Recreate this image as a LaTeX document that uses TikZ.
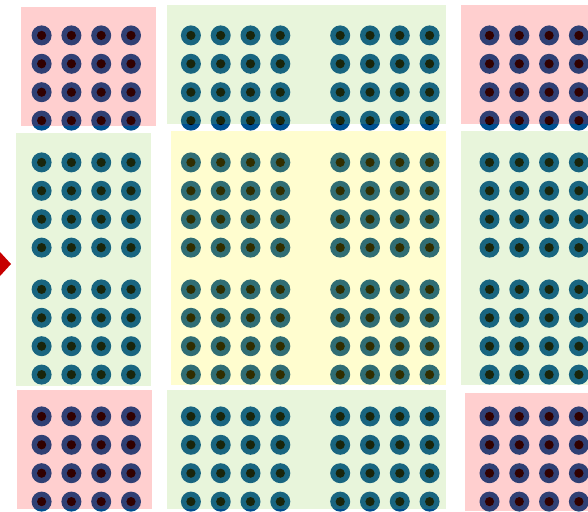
\documentclass[tikz,border=0pt]{standalone}
\usepackage{tikz}
\usepackage{xcolor}
\usetikzlibrary{arrows.meta, positioning}

\definecolor{ringblue}{rgb}{0.0,0.31,0.56}
\definecolor{tintgreen}{rgb}{0.53,0.79,0.26}
\definecolor{markred}{rgb}{0.78,0.0,0.0}

\begin{document}
\begin{tikzpicture}[
    x=0.02cm, y=-0.02cm,
    dotring/.style={fill=ringblue},
    dotcore/.style={fill=black},
    tintpink/.style={fill=red, fill opacity=0.19},
    tintlime/.style={fill=tintgreen, fill opacity=0.19},
    tintyellow/.style={fill=yellow, fill opacity=0.19},
    marker/.style={fill=markred}
  ]
    \useasboundingbox (0,0) rectangle (588,511);

    % the dot array
    \foreach \g in {0,...,3}
      \foreach \h in {0,...,3}
        \foreach \i in {0,...,3}
          \foreach \j in {0,...,3} {
            \fill[dotring] ({41.6+149.3*\g+29.8*\i},{35.4+127*\h+28.4*\j}) circle (10);
            \fill[dotcore] ({41.6+149.3*\g+29.8*\i},{35.4+127*\h+28.4*\j}) circle (4.6);
          }

    % tinted regions
    \fill[tintpink] (21,7) rectangle (156,126);
    \fill[tintlime] (167,5) rectangle (446,124);
    \fill[tintpink] (461,5) rectangle (588,124);

    \fill[tintlime] (16,133) rectangle (151,386);
    \fill[tintyellow] (171,131) rectangle (446,385);
    \fill[tintlime] (461,131) rectangle (588,385);

    \fill[tintpink] (17,390) rectangle (152,509);
    \fill[tintlime] (167,390) rectangle (446,509);
    \fill[tintpink] (465,393) rectangle (588,511);

    % marker on the left edge
    \fill[marker] (0,252) -- (11,264) -- (0,276) -- cycle;
  \end{tikzpicture}
\end{document}
